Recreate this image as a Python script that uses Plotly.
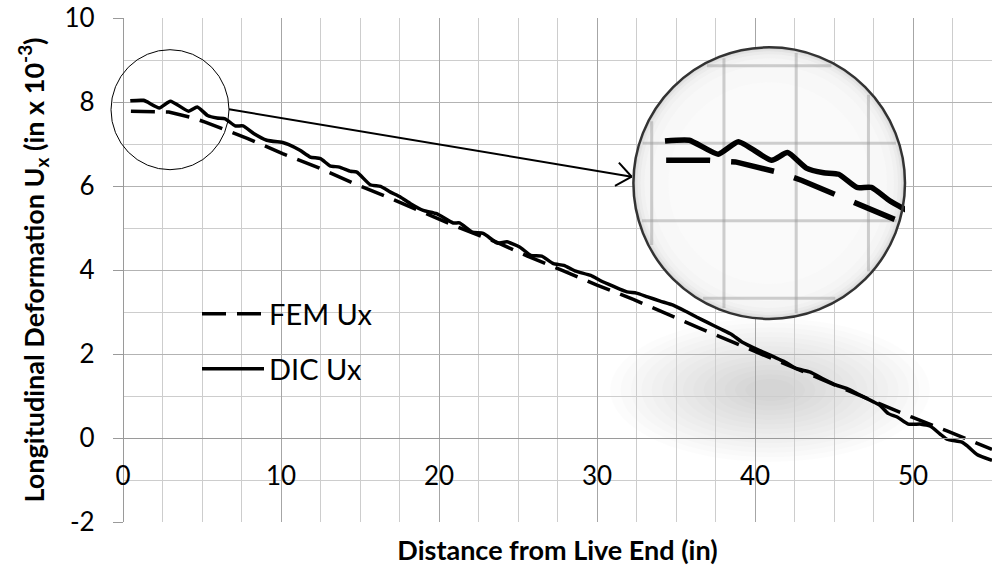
import math
import plotly.graph_objects as go

# ---------------- data ----------------
fem_x = [0.5, 2.0, 2.9, 4.45, 5.2, 7.9, 10.1, 12.4, 14.5, 16.7, 18.9, 21.2, 23.6, 25.6,
         27.8, 30.0, 32.3, 34.4, 36.6, 40.0, 45.0, 48.45, 49.9, 52.15, 54.35, 55.0]
fem_y = [7.78, 7.78, 7.76, 7.62, 7.52, 7.13, 6.77, 6.43, 6.08, 5.74, 5.38, 5.02, 4.67, 4.33,
         3.99, 3.64, 3.30, 2.95, 2.60, 2.06, 1.27, 0.72, 0.50, 0.17, -0.17, -0.27]

dic_x = [0.46, 1.3, 2.3, 3.0, 4.15, 4.7, 5.35, 5.95, 6.47, 7.1, 7.6, 8.27, 9.1, 10.16, 10.46,
         11.2, 11.85, 12.5, 13.1, 13.7, 14.4, 14.8, 15.65, 16.3, 16.9, 17.55, 18.2, 19.0, 19.85,
         20.9, 21.3, 22.1, 22.8, 23.7, 24.3, 25.1, 25.8, 26.5, 27.25, 27.9, 28.6, 29.6, 30.2,
         31.05, 31.9, 32.5, 33.2, 34.0, 34.85, 35.7, 36.3, 36.95, 37.8, 38.5, 39.2, 40.3, 41.2,
         41.9, 42.65, 43.5, 44.3, 45.2, 45.8, 46.45, 47.5, 47.9, 48.45, 49.0, 49.7, 50.5, 51.1,
         51.7, 52.15, 53.1, 53.5, 54.05, 55.0]
dic_y = [8.03, 8.04, 7.86, 8.02, 7.78, 7.88, 7.68, 7.62, 7.60, 7.43, 7.43, 7.25, 7.09, 7.03, 6.99,
         6.85, 6.69, 6.65, 6.48, 6.45, 6.35, 6.33, 6.03, 5.99, 5.86, 5.74, 5.58, 5.42, 5.34,
         5.12, 5.12, 4.90, 4.87, 4.64, 4.67, 4.55, 4.35, 4.33, 4.15, 4.11, 3.98, 3.87, 3.75,
         3.61, 3.48, 3.45, 3.36, 3.26, 3.16, 3.00, 2.88, 2.76, 2.60, 2.47, 2.28, 2.08, 1.93,
         1.81, 1.65, 1.57, 1.41, 1.25, 1.18, 1.06, 0.86, 0.78, 0.58, 0.50, 0.33, 0.33, 0.28,
         0.10, -0.03, -0.10, -0.21, -0.39, -0.53]

x_range = [0, 55]
y_range = [-2, 10]
x_tickvals = [0, 10, 20, 30, 40, 50]
x_ticktext = ["0", "10", "20", "30", "40", "50"]
y_tickvals = [-2, 0, 2, 4, 6, 8, 10]
y_ticktext = ["-2", "0", "2", "4", "6", "8", "10"]
x_title = "Distance from Live End (in)"
y_title = "Longitudinal Deformation U<sub>x</sub> (in x 10<sup>-3</sup>)"
fem_name = "FEM Ux"
dic_name = "DIC Ux"

# ---------------- geometry helpers (pixel -> paper) ----------------
FW, FH = 1000, 566
ML, MR, MT, MB = 123, 8, 18, 44
PW, PH = FW - ML - MR, FH - MT - MB


def pxx(px):
    return (px - ML) / PW


def pxy(py):
    return (MT + PH - py) / PH


FONT = "Lato"

# magnifier geometry (pixels)
BIG_CX, BIG_CY, BIG_R = 769.2, 183.1, 135.8
SM_CX, SM_CY, SM_RX, SM_RY = 170.0, 109.7, 59.0, 60.0
INS_X0, INS_SX = 651.7, 28.9      # pixel of x=0 and px per unit inside lens
INS_Y8, INS_SY = 143.3, 77.5      # pixel of y=8 and px per unit inside lens


def ins_dx(px):
    return (px - INS_X0) / INS_SX


def ins_dy(py):
    return 8 - (py - INS_Y8) / INS_SY


ins_xr = [ins_dx(BIG_CX - BIG_R), ins_dx(BIG_CX + BIG_R)]
ins_yr = [ins_dy(BIG_CY + BIG_R), ins_dy(BIG_CY - BIG_R)]

fig = go.Figure()

fig.add_trace(go.Scatter(x=fem_x, y=fem_y, mode="lines", name=fem_name,
                         line=dict(color="black", width=3.5, dash="24px,11px"),
                         legend="legend"))
fig.add_trace(go.Scatter(x=dic_x, y=dic_y, mode="lines", name=dic_name,
                         line=dict(color="black", width=3.5, shape="spline", smoothing=0.5),
                         legend="legend2"))

# magnified copies inside the lens
fig.add_trace(go.Scatter(x=fem_x, y=fem_y, mode="lines", xaxis="x2", yaxis="y2",
                         showlegend=False, hoverinfo="skip",
                         line=dict(color="black", width=5.5, dash="44px,21px")))
fig.add_trace(go.Scatter(x=dic_x, y=dic_y, mode="lines", xaxis="x2", yaxis="y2",
                         showlegend=False, hoverinfo="skip",
                         line=dict(color="black", width=5.5, shape="spline", smoothing=0.5)))

shapes = []
# soft shadow under the lens
SH_CX, SH_CY, SH_RX, SH_RY = 770, 390, 160, 72
for k in range(14):
    s = 1 - k * 0.065
    shapes.append(dict(type="circle", xref="paper", yref="paper", layer="below",
                       x0=pxx(SH_CX - SH_RX * s), x1=pxx(SH_CX + SH_RX * s),
                       y0=pxy(SH_CY + SH_RY * s), y1=pxy(SH_CY - SH_RY * s),
                       fillcolor="black", opacity=0.011, line=dict(width=0)))

# lens fill (radial shading by concentric discs)
for dr, col in [(0, "#d6d6d6"), (2, "#e2e2e2"), (4, "#ebebeb"), (7, "#f1f1f1"),
                (11, "#f5f5f5"), (18, "#f8f8f8"), (35, "#fafafa")]:
    r = BIG_R - dr
    shapes.append(dict(type="circle", xref="x2", yref="y2", layer="below",
                       x0=ins_dx(BIG_CX - r), x1=ins_dx(BIG_CX + r),
                       y0=ins_dy(BIG_CY + r), y1=ins_dy(BIG_CY - r),
                       fillcolor=col, line=dict(width=0)))

# magnified grid (chords of the lens)
rr = BIG_R - 3
for v in [0, 2.5, 5, 7.5]:
    X = INS_X0 + INS_SX * v
    if abs(X - BIG_CX) < rr:
        h = math.sqrt(rr ** 2 - (X - BIG_CX) ** 2)
        shapes.append(dict(type="line", xref="x2", yref="y2", layer="below",
                           x0=v, x1=v, y0=ins_dy(BIG_CY + h), y1=ins_dy(BIG_CY - h),
                           line=dict(color="rgba(150,150,150,0.45)", width=3)))
for v in [9, 8, 7, 6]:
    Y = INS_Y8 - INS_SY * (v - 8)
    if abs(Y - BIG_CY) < rr:
        h = math.sqrt(rr ** 2 - (Y - BIG_CY) ** 2)
        shapes.append(dict(type="line", xref="x2", yref="y2", layer="below",
                           x0=ins_dx(BIG_CX - h), x1=ins_dx(BIG_CX + h), y0=v, y1=v,
                           line=dict(color="rgba(150,150,150,0.45)", width=3)))

# small circle marking the zoomed region
shapes.append(dict(type="circle", xref="paper", yref="paper", layer="above",
                   x0=pxx(SM_CX - SM_RX), x1=pxx(SM_CX + SM_RX),
                   y0=pxy(SM_CY + SM_RY), y1=pxy(SM_CY - SM_RY),
                   line=dict(color="black", width=1)))

# connector arrow
A0 = (SM_CX + SM_RX, 109.3)
A1 = (631.7, 176.7)
shapes.append(dict(type="line", xref="paper", yref="paper", layer="above",
                   x0=pxx(A0[0]), y0=pxy(A0[1]), x1=pxx(A1[0]), y1=pxy(A1[1]),
                   line=dict(color="black", width=2)))
ang = math.atan2(A1[1] - A0[1], A1[0] - A0[0])
for da in (math.radians(38), -math.radians(38)):
    a = ang + math.pi + da
    ex, ey = A1[0] + 19 * math.cos(a), A1[1] + 19 * math.sin(a)
    shapes.append(dict(type="line", xref="paper", yref="paper", layer="above",
                       x0=pxx(A1[0]), y0=pxy(A1[1]), x1=pxx(ex), y1=pxy(ey),
                       line=dict(color="black", width=2)))

# lens outline
shapes.append(dict(type="circle", xref="paper", yref="paper", layer="above",
                   x0=pxx(BIG_CX - BIG_R), x1=pxx(BIG_CX + BIG_R),
                   y0=pxy(BIG_CY + BIG_R), y1=pxy(BIG_CY - BIG_R),
                   line=dict(color="#333333", width=2.5)))

# leading no-break spaces lift the rotated y title a little, as in the reference
Y_TITLE_PAD = "\u00a0" * 9

fig.update_layout(
    width=FW, height=FH,
    margin=dict(l=ML, r=MR, t=MT, b=MB, pad=0, autoexpand=False),
    paper_bgcolor="white", plot_bgcolor="rgba(0,0,0,0)",
    font=dict(family=FONT, color="black"),
    shapes=shapes,
    xaxis=dict(range=x_range, domain=[0, 1], anchor="free", position=2 / 12,
               tickmode="array", tickvals=x_tickvals, ticktext=x_ticktext,
               showgrid=True, gridcolor="#a6a6a6", gridwidth=1,
               minor=dict(dtick=2.5, tick0=0, showgrid=True, gridcolor="#cdcdcd", gridwidth=1),
               showline=True, linecolor="#9a9a9a", linewidth=1.3,
               ticks="", ticklabelstandoff=15, automargin=False,
               tickfont=dict(family=FONT, size=26, color="black"),
               zeroline=False,
               title=dict(text=x_title, standoff=54,
                          font=dict(family=FONT, size=27, weight="bold")),
               fixedrange=True),
    yaxis=dict(range=y_range, domain=[0, 1], anchor="free", position=0,
               tickmode="array", tickvals=y_tickvals, ticktext=y_ticktext,
               showgrid=True, gridcolor="#b3b3b3", gridwidth=1,
               minor=dict(dtick=1, tick0=0, showgrid=True, gridcolor="#cdcdcd", gridwidth=1),
               showline=True, linecolor="#9a9a9a", linewidth=1.3,
               ticks="outside", ticklen=10, tickcolor="#9a9a9a", tickwidth=1.3,
               ticklabelstandoff=13, automargin=False,
               tickfont=dict(family=FONT, size=26, color="black"),
               zeroline=False,
               title=dict(text=Y_TITLE_PAD + y_title, standoff=11,
                          font=dict(family=FONT, size=27, weight="bold")),
               fixedrange=True),
    xaxis2=dict(range=ins_xr, domain=[pxx(BIG_CX - BIG_R), pxx(BIG_CX + BIG_R)],
                anchor="y2", visible=False, fixedrange=True, autorange=False),
    yaxis2=dict(range=ins_yr, domain=[pxy(BIG_CY + BIG_R), pxy(BIG_CY - BIG_R)],
                anchor="x2", visible=False, fixedrange=True, autorange=False),
    legend=dict(x=pxx(197), y=pxy(314), xanchor="left", yanchor="middle",
                bgcolor="rgba(0,0,0,0)", itemwidth=62,
                font=dict(family=FONT, size=29, color="black")),
    legend2=dict(x=pxx(197), y=pxy(369), xanchor="left", yanchor="middle",
                 bgcolor="rgba(0,0,0,0)", itemwidth=62,
                 font=dict(family=FONT, size=29, color="black")),
    showlegend=True,
)

# remove the default page margin so the figure sits at the window's top-left corner
fig.write_html("out.html",
               config={"displayModeBar": False},
               post_script="document.body.style.margin='0px';document.body.style.overflow='hidden';")
